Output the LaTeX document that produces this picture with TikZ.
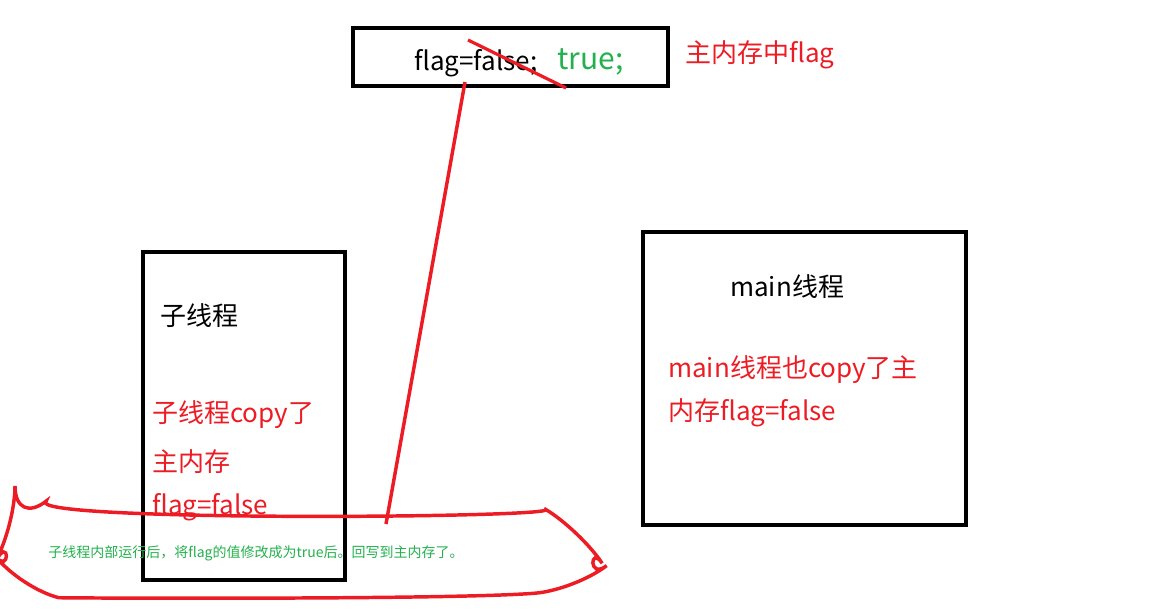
\documentclass[tikz,border=0pt]{standalone}
\usepackage{fontspec}
\setmainfont{Noto Sans CJK SC}
\begin{document}
\begin{tikzpicture}[x=0.75pt,y=-0.75pt,
  box/.style={draw=black,line width=2.6pt},
  red/.style={draw=red!85!black,line width=2.6pt},
  lab/.style={anchor=west,inner sep=0pt,font=\fontsize{19.5}{22}\selectfont}]
\definecolor{gr}{RGB}{34,177,76}
\definecolor{rd}{RGB}{237,28,36}
\useasboundingbox (0,0) rectangle (1162,611);
\draw[box] (353,28) rectangle (668,86);
\node[lab] (f) at (414,63) {flag=false;};
\node[lab,text=gr,font=\fontsize{22.5}{24}\selectfont] (t) at (557,62) {true;};
\draw[draw=rd,line width=2.4pt] (468,40) -- (566,88);
\node[lab,text=rd] (m) at (685,55) {主内存中flag};
\draw[box] (143,252) rectangle (345,580);
\node[lab] (s) at (160,316) {子线程};
\node[lab,text=rd] (s1) at (152,415) {子线程copy了};
\node[lab,text=rd] (s2) at (152,462) {主内存};
\node[lab,text=rd] (s3) at (152,507) {flag=false};
\draw[box] (643,232) rectangle (966,525);
\node[lab] (mt) at (730,287) {main线程};
\node[lab,text=rd] (m1) at (668,370) {main线程也copy了主};
\node[lab,text=rd] (m2) at (668,413) {内存flag=false};
\draw[draw=rd,line width=2.6pt] (465,82) -- (386,524);
\draw[draw=rd,line width=2.6pt,rounded corners=30] (15,526) .. controls (20,522) and (560,518) .. (580,530) .. controls (590,545) and (588,580) .. (575,590) .. controls (450,600) and (60,598) .. (20,588) .. controls (10,575) and (10,535) .. cycle;
\node[lab,text=gr,font=\fontsize{10.5}{12}\selectfont] (g) at (48,553) {子线程内部运行后，将flag的值修改成为true后。回写到主内存了。};
\end{tikzpicture}
\end{document}
